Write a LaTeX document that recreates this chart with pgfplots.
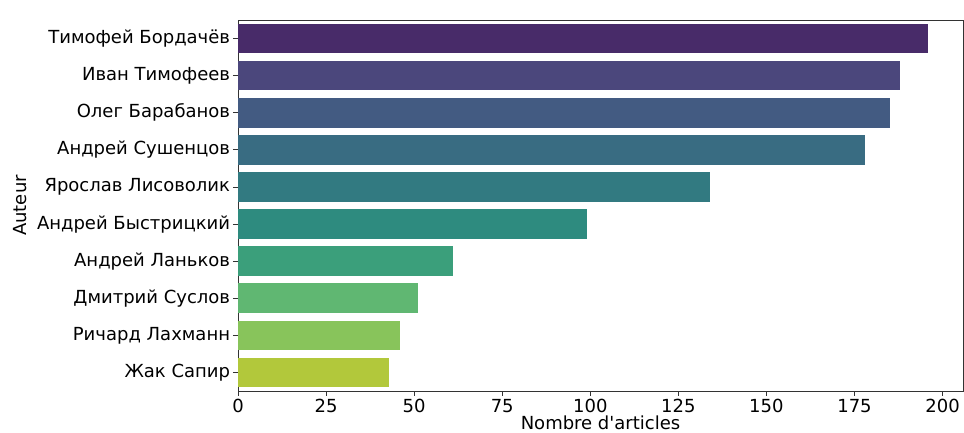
\documentclass[border=0pt]{standalone}
\usepackage{fontspec}
\newfontfamily\dv{DejaVu Sans}
\usepackage{pgfplots}
\pgfplotsset{compat=1.18}
\definecolor{c1}{RGB}{72,43,105}
\definecolor{c2}{RGB}{75,71,124}
\definecolor{c3}{RGB}{67,91,130}
\definecolor{c4}{RGB}{57,108,130}
\definecolor{c5}{RGB}{50,122,129}
\definecolor{c6}{RGB}{46,139,127}
\definecolor{c7}{RGB}{59,159,123}
\definecolor{c8}{RGB}{96,183,114}
\definecolor{c9}{RGB}{136,196,91}
\definecolor{c10}{RGB}{178,200,59}
\begin{document}
\dv\fontsize{13.5}{16}\selectfont
\begin{tikzpicture}
\begin{axis}[
  name=ax,
  scale only axis,
  width=543.75pt, height=278.25pt,
  xbar, bar width=0.8, bar shift=0pt,
  xmin=0, xmax=205.8,
  ymin=-0.5, ymax=9.5,
  y dir=reverse,
  xtick={0,25,50,75,100,125,150,175,200},
  ytick={0,...,9},
  yticklabels={Тимофей Бордачёв,Иван Тимофеев,Олег Барабанов,Андрей Сушенцов,Ярослав Лисоволик,Андрей Быстрицкий,Андрей Ланьков,Дмитрий Суслов,Ричард Лахманн,Жак Сапир},
  /pgf/number format/assume math mode=true,
  tick align=outside,
  major tick length=3.75pt,
  tick style={black!80, line width=0.6pt},
  axis line style={black!80, line width=0.6pt},
  xtick pos=bottom, ytick pos=left,
  yticklabel style={inner sep=1pt, xshift=-1pt},
  xticklabel style={inner sep=1pt, yshift=-1pt},
  xlabel={Nombre d\char"0027articles},
  ylabel={Auteur},
  xlabel style={at={(axis description cs:0.5,0)}, anchor=center, inner sep=0pt, yshift=-23.5pt},
  ylabel style={at={(axis description cs:0,0.5)}, anchor=center, inner sep=0pt, rotate=0, yshift=163.5pt},
  every axis plot/.append style={draw=none},
]
\addplot[fill=c1] coordinates {(196,0)};
\addplot[fill=c2] coordinates {(188,1)};
\addplot[fill=c3] coordinates {(185,2)};
\addplot[fill=c4] coordinates {(178,3)};
\addplot[fill=c5] coordinates {(134,4)};
\addplot[fill=c6] coordinates {(99,5)};
\addplot[fill=c7] coordinates {(61,6)};
\addplot[fill=c8] coordinates {(51,7)};
\addplot[fill=c9] coordinates {(46,8)};
\addplot[fill=c10] coordinates {(43,9)};
\end{axis}
\path ([xshift=-178.5pt,yshift=-31.5pt]ax.south west) rectangle ([xshift=0.75pt,yshift=15pt]ax.north east);
\end{tikzpicture}
\end{document}
